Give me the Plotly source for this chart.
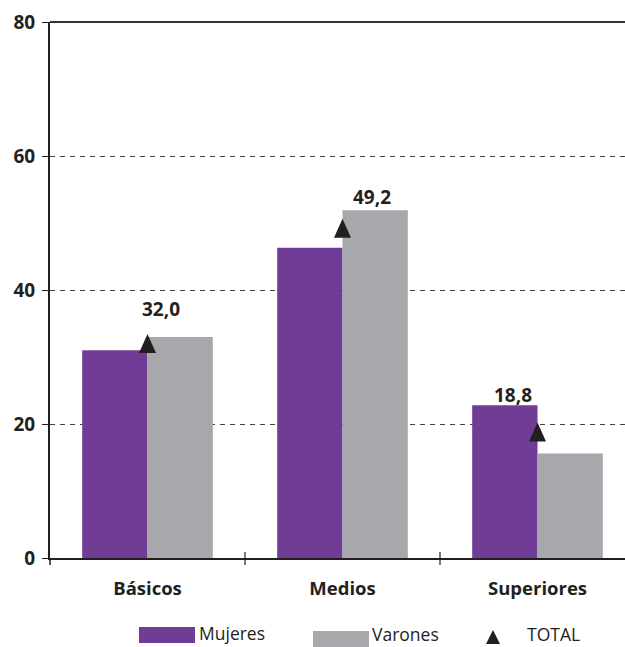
import plotly.graph_objects as go

# Nivel educativo: porcentajes por sexo y total
categorias = ["Básicos", "Medios", "Superiores"]
mujeres = [31.0, 46.3, 22.8]
varones = [33.0, 51.9, 15.6]
total = [32.0, 49.2, 18.8]
etiquetas_total = ["32,0", "49,2", "18,8"]
y_ticks = [0, 20, 40, 60, 80]

PURPLE = "#713C96"
GRAY = "#A7A8AB"
INK = "#231F20"
FONT = "Open Sans"

W, H = 625, 647
ML, MR, MT, MB = 50, 0, 22, 89
PW, PH = W - ML - MR, H - MT - MB


def px_to_paper(px, py):
    return (px - ML) / PW, (H - MB - py) / PH


xs = list(range(len(categorias)))

fig = go.Figure()
fig.add_trace(go.Bar(x=xs, y=mujeres, name="Mujeres", marker=dict(color=PURPLE, line=dict(width=0))))
fig.add_trace(go.Bar(x=xs, y=varones, name="Varones", marker=dict(color=GRAY, line=dict(width=0))))

shapes = []

# TOTAL markers: tall triangles anchored at each data value
TRI = "M -8.5 -9.5 L 8.5 -9.5 L 0 9.5 Z"
for x, v in zip(xs, total):
    shapes.append(dict(type="path", xref="x", yref="y", xsizemode="pixel", ysizemode="pixel",
                       xanchor=x, yanchor=v, path=TRI, fillcolor=INK, line=dict(width=0),
                       layer="above"))

# value labels for the total series (pixel nudges per label)
label_shift = [(13, 35), (29, 31), (-25, 37)]
for x, v, t, (dx, dy) in zip(xs, total, etiquetas_total, label_shift):
    fig.add_annotation(x=x, y=v, text=f"<b>{t}</b>", showarrow=False,
                       xshift=dx, yshift=dy, font=dict(family=FONT, size=19, color=INK))

# top border
shapes.append(dict(type="line", xref="paper", yref="paper", x0=0, x1=1, y0=1, y1=1,
                   line=dict(color="#333333", width=2)))
# category separator ticks crossing the x axis
for b in [0.5, 1.5, 2.5]:
    shapes.append(dict(type="line", xref="x", yref="paper", ysizemode="pixel", yanchor=0,
                       x0=b, x1=b, y0=-7, y1=6, line=dict(color=INK, width=1.2)))
# y axis stub below the baseline
shapes.append(dict(type="line", xref="paper", yref="paper", ysizemode="pixel", yanchor=0,
                   x0=0, x1=0, y0=-7, y1=0, line=dict(color=INK, width=1.5)))

# custom legend (text anchored by its bottom edge)
legend_items = [
    ("rect", PURPLE, 139, 195, 627, 643, "Mujeres", 198, 646),
    ("rect", GRAY, 313, 369, 631, 650, "Varones", 371, 647),
    ("tri", INK, 493, 493, 630, 644, "TOTAL", 526, 647),
]
for kind, col, x0, x1, y0, y1, txt, tx, ty in legend_items:
    if kind == "rect":
        a0, b0 = px_to_paper(x0, y1)
        a1, b1 = px_to_paper(x1, y0)
        shapes.append(dict(type="rect", xref="paper", yref="paper", x0=a0, x1=a1, y0=b0, y1=b1,
                           fillcolor=col, line=dict(width=0)))
    else:
        cx = x0
        p = [px_to_paper(cx - 7, y1), px_to_paper(cx + 7, y1), px_to_paper(cx, y0)]
        path = "M {} {} L {} {} L {} {} Z".format(p[0][0], p[0][1], p[1][0], p[1][1], p[2][0], p[2][1])
        shapes.append(dict(type="path", xref="paper", yref="paper", path=path,
                           fillcolor=col, line=dict(width=0)))
    ax, ay = px_to_paper(tx, ty)
    fig.add_annotation(xref="paper", yref="paper", x=ax, y=ay, text=txt, showarrow=False,
                       xanchor="left", yanchor="bottom", borderpad=0,
                       font=dict(family=FONT, size=17.5, color=INK))

fig.update_layout(
    width=W, height=H,
    margin=dict(l=ML, r=MR, t=MT, b=MB, pad=0),
    paper_bgcolor="white", plot_bgcolor="white",
    barmode="group", bargap=0.33, bargroupgap=0,
    showlegend=False,
    shapes=shapes,
    font=dict(family=FONT, color=INK),
    xaxis=dict(
        range=[-0.5, -0.5 + PW / 195.0],
        tickmode="array", tickvals=xs,
        ticktext=[f"<b>{c}</b>" for c in categorias],
        ticks="", ticklabelstandoff=13,
        tickfont=dict(family=FONT, size=18.5, color=INK),
        showgrid=False, zeroline=False,
        showline=True, linecolor=INK, linewidth=2,
        fixedrange=True,
    ),
    yaxis=dict(
        range=[0, 80],
        tickmode="array", tickvals=y_ticks,
        ticktext=[f"<b>{v}</b>" for v in y_ticks],
        ticks="outside", ticklen=6, tickwidth=1.2, tickcolor=INK,
        ticklabelstandoff=3,
        tickfont=dict(family=FONT, size=19, color=INK),
        showgrid=True, gridcolor="#444444", gridwidth=1, griddash="5px,5px",
        zeroline=False,
        showline=True, linecolor=INK, linewidth=2,
        fixedrange=True,
    ),
)

fig.write_html("out.html")
